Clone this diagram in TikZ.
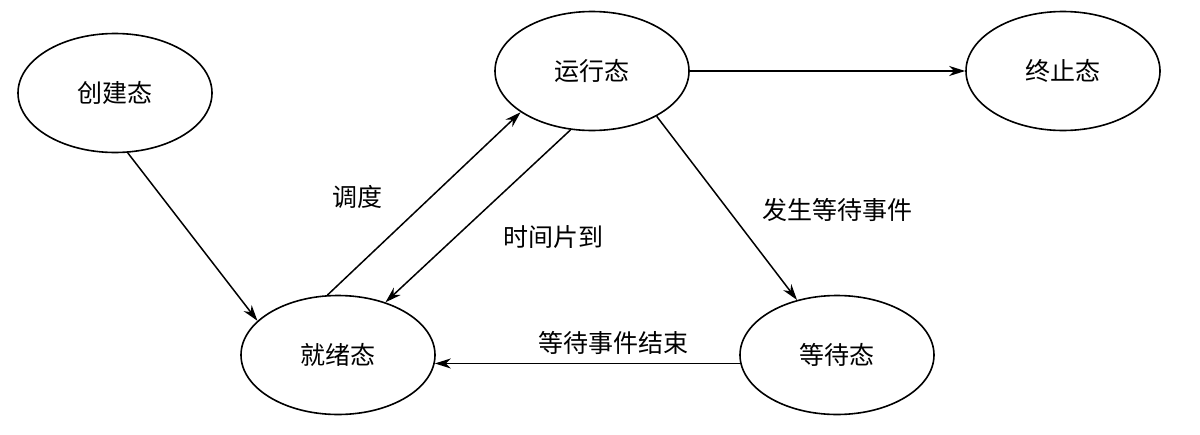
\documentclass[tikz,border=0pt]{standalone}
\usepackage{fontspec}
\newfontfamily\cjk{Noto Sans CJK SC}
\usepackage{tikz}
\usetikzlibrary{shapes.geometric, arrows.meta, positioning}
\tikzset{
	statenode/.style={ellipse, draw, line width=0.8pt, inner sep=0pt,
		minimum width=97pt, minimum height=59.5pt,
		font=\cjk\fontsize{12.5pt}{15pt}\selectfont}
}
\tikzset{
	edgetext/.style={font=\cjk\fontsize{12.5pt}{15pt}\selectfont}
}
\tikzset{
	trans/.style={line width=0.75pt, -{Stealth[length=8pt, width=5pt, inset=2.5pt]}}
}

\begin{document}
\begin{tikzpicture}[x=0.5pt, y=-0.5pt]
      \useasboundingbox (0,0) rectangle (1200,434);
      \node[statenode] (create) at (115,93) {创建态};
      \node[statenode] (run) at (592,71) {运行态};
      \node[statenode] (stop) at (1063,71) {终止态};
      \node[statenode] (ready) at (338,355) {就绪态};
      \node[statenode] (wait) at (837,355) {等待态};
      \draw[trans] (create.-78) -- (ready.157);
      \draw[trans] (ready.100) -- (run.210);
      \draw[trans] (run.-110) -- (ready.48);
      \draw[trans] (run.east) -- (stop.west);
      \draw[trans] (run.-35) -- (wait.126);
      \draw[trans] (wait.185) -- (ready.-5);
      \node[edgetext] (lblsched) at (357,197) {调度};
      \node[edgetext] (lblslice) at (553,237) {时间片到};
      \node[edgetext] (lblevent) at (837,210) {发生等待事件};
      \node[edgetext] (lbldone) at (613,343) {等待事件结束};
    \end{tikzpicture}
\end{document}
